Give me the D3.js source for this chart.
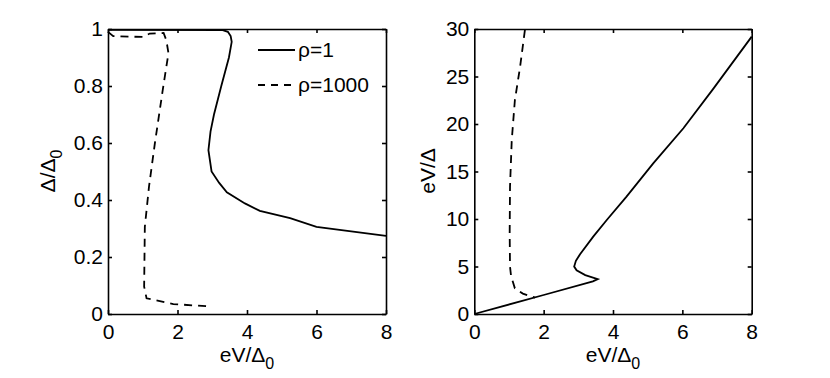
<!DOCTYPE html>
<meta charset="utf-8">
<title>Gap and voltage</title>
<style>
  body { margin: 0; background: white; }
  svg { display: block; font-family: "Liberation Sans", Arial, Helvetica, sans-serif; }
  .axis path, .axis line { stroke: #000; stroke-width: 1.6px; }
  .axis text { font-size: 21px; fill: #000; font-family: "Liberation Sans", Arial, sans-serif; }
  .curve { fill: none; stroke: #000; stroke-width: 1.8px; }
  .dash { stroke-dasharray: 8, 6; }
  .title { font-size: 21px; fill: #000; }
</style>

<body>
  <svg width="830" height="378"></svg>
</body>

<script src="https://d3js.org/d3.v7.min.js"></script>
<script>
  // tick labels
  var xTicks = [0, 2, 4, 6, 8];
  var leftYTicks = [0, 0.2, 0.4, 0.6, 0.8, 1];
  var leftYLabels = ["0", "0.2", "0.4", "0.6", "0.8", "1"];
  var rightYTicks = [0, 5, 10, 15, 20, 25, 30];

  // left panel: Delta/Delta0 vs eV/Delta0
  var leftRho1X = [0, 3.3, 3.45, 3.53, 3.56, 3.48, 3.26, 3.05, 2.95, 2.89, 2.98, 3.2, 3.42, 3.94, 4.37, 5.24, 6.0, 8.0];
  var leftRho1Y = [0.997, 0.996, 0.99, 0.975, 0.955, 0.9, 0.8, 0.7, 0.64, 0.575, 0.5, 0.46, 0.427, 0.388, 0.362, 0.336, 0.306, 0.274];
  var leftRho1000X = [0, 0.15, 1.0, 1.2, 1.6, 1.68, 1.74, 1.59, 1.35, 1.18, 1.06, 1.04, 1.11, 1.88, 2.98];
  var leftRho1000Y = [0.99, 0.975, 0.972, 0.984, 0.986, 0.96, 0.915, 0.798, 0.6, 0.447, 0.306, 0.096, 0.055, 0.035, 0.026];

  // right panel: eV/Delta vs eV/Delta0
  var rightRho1X = [0, 2.0, 3.42, 3.56, 3.2, 2.95, 2.88, 2.93, 3.05, 3.43, 3.82, 4.39, 5.16, 6.03, 6.89, 8.0];
  var rightRho1Y = [0, 2.0, 3.44, 3.68, 4.1, 4.6, 5.0, 5.6, 6.3, 8.14, 9.9, 12.35, 15.86, 19.55, 23.7, 29.2];
  var rightRho1000X = [1.46, 1.32, 1.17, 1.08, 1.03, 1.02, 1.03, 1.06, 1.17, 1.40, 1.75];
  var rightRho1000Y = [29.9, 26.0, 22.5, 18.3, 13.4, 8.5, 5.0, 4.0, 2.7, 2.15, 1.72];

  var legendLabels = ["\u03c1=1", "\u03c1=1000"];

  const svg = d3.select('svg');
  const plotTop = 29, plotBottom = 314;

  function pts(xs, ys) {
    return xs.map(function (d, i) { return [d, ys[i]]; });
  }

  function panel(left, right, yDomain, yTicks, yFormat) {
    var x = d3.scaleLinear().domain([0, 8]).range([left, right]);
    var y = d3.scaleLinear().domain(yDomain).range([plotBottom, plotTop]);

    svg.append('g').attr('class', 'axis')
      .attr('transform', 'translate(0,' + plotBottom + ')')
      .call(d3.axisBottom(x).tickValues(xTicks).tickSizeInner(-4).tickSizeOuter(0).tickPadding(10));
    svg.append('g').attr('class', 'axis')
      .attr('transform', 'translate(0,' + plotTop + ')')
      .call(d3.axisTop(x).tickValues(xTicks).tickSizeInner(-4).tickSizeOuter(0).tickFormat(''));
    svg.append('g').attr('class', 'axis')
      .attr('transform', 'translate(' + left + ',0)')
      .call(d3.axisLeft(y).tickValues(yTicks).tickSizeInner(-4).tickSizeOuter(0).tickPadding(5).tickFormat(yFormat));
    svg.append('g').attr('class', 'axis')
      .attr('transform', 'translate(' + right + ',0)')
      .call(d3.axisRight(y).tickValues(yTicks).tickSizeInner(-4).tickSizeOuter(0).tickFormat(''));
    svg.selectAll('.axis .domain').attr('fill', 'none');

    var line = d3.line().x(d => x(d[0])).y(d => y(d[1]));
    return { x: x, y: y, line: line };
  }

  // left panel
  var L = panel(108, 386, [0, 1], leftYTicks, (d, i) => leftYLabels[i]);
  svg.append('path').attr('class', 'curve').attr('d', L.line(pts(leftRho1X, leftRho1Y)));
  svg.append('path').attr('class', 'curve dash').attr('d', L.line(pts(leftRho1000X, leftRho1000Y)));

  // right panel
  var R = panel(474.3, 751.7, [0, 30], rightYTicks, d => d);
  svg.append('path').attr('class', 'curve').attr('d', R.line(pts(rightRho1X, rightRho1Y)));
  svg.append('path').attr('class', 'curve dash').attr('d', R.line(pts(rightRho1000X, rightRho1000Y)));

  // legend
  var legend = svg.append('g');
  legendLabels.forEach(function (lab, i) {
    var ly = 50 + i * 35;
    legend.append('line')
      .attr('class', i == 0 ? 'curve' : 'curve dash')
      .attr('x1', 258).attr('x2', 295).attr('y1', ly).attr('y2', ly)
      .style('stroke-dasharray', i == 0 ? null : '7,6');
    legend.append('text').attr('class', 'title')
      .attr('x', 298).attr('y', ly + 7).text(lab);
  });

  // axis titles
  function xTitle(cx) {
    var t = svg.append('text').attr('class', 'title')
      .attr('x', cx).attr('y', 362).attr('text-anchor', 'middle');
    t.append('tspan').text('eV/\u0394');
    t.append('tspan').attr('dy', 7).style('font-size', '16px').text('0');
  }
  xTitle(247);
  xTitle(613);

  var yt = svg.append('text').attr('class', 'title')
    .attr('transform', 'translate(55,171) rotate(-90)').attr('text-anchor', 'middle');
  yt.append('tspan').text('\u0394/\u0394');
  yt.append('tspan').attr('dy', 7).style('font-size', '16px').text('0');

  svg.append('text').attr('class', 'title')
    .attr('transform', 'translate(435,171) rotate(-90)').attr('text-anchor', 'middle')
    .text('eV/\u0394');
</script>
